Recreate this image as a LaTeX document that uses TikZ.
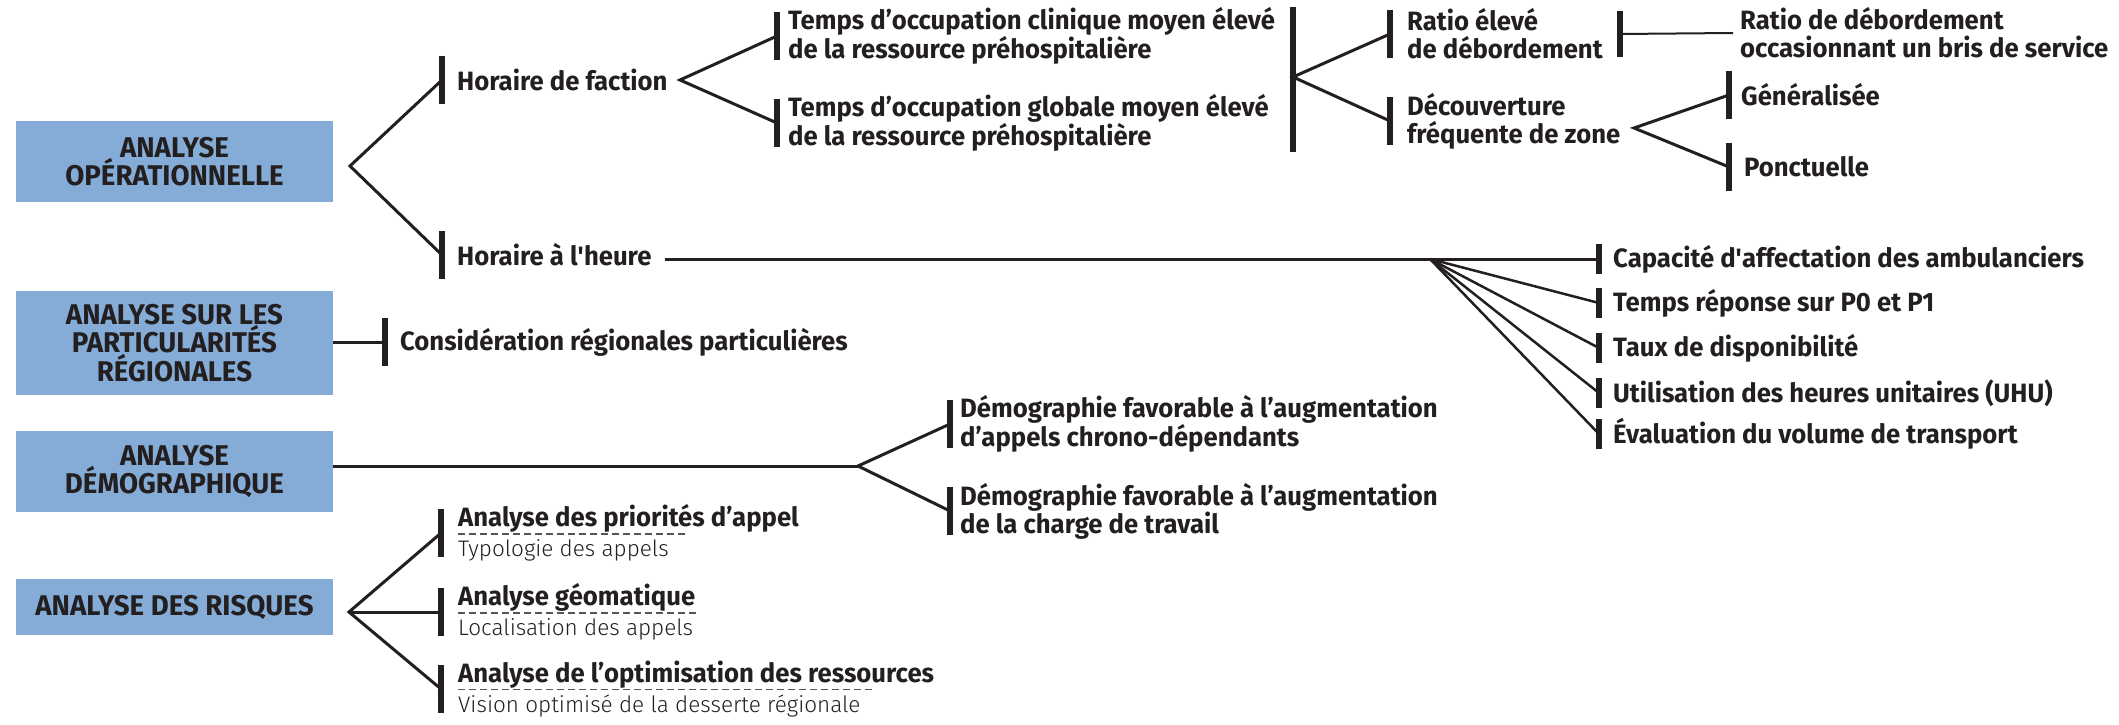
\documentclass[tikz,border=0pt]{standalone}
\usepackage{fontspec}
\setmainfont{Fira Sans}[FakeStretch=0.97]
\IfFontExistsTF{Fira Sans Light}{\newfontfamily\lightfont{Fira Sans Light}}{\newfontfamily\lightfont{Fira Sans}}
\definecolor{ink}{HTML}{231F20}
\definecolor{boxblue}{HTML}{84ACD6}
\definecolor{dashgray}{HTML}{555555}
\newcommand\dashfill[1]{\hbox to #1pt{\color{dashgray}\leaders\hbox to 11pt{\rule{6.5pt}{1.4pt}\hss}\hfill}}
\newcommand\subl[2]{\rlap{\raisebox{22pt}{\dashfill{#1}}}{\lightfont\mdseries\fontsize{22.5}{24}\selectfont #2}}
\begin{document}
\begin{tikzpicture}[x=1pt,y=-1pt,
  box/.style={fill=boxblue, minimum width=317pt, inner sep=0pt, align=center,
    font=\fontsize{28.5}{26}\selectfont\bfseries, text=ink},
  leaf/.style={anchor=west, inner ysep=0pt, inner xsep=15pt, align=left,
    font=\fontsize{26.5}{28}\selectfont\bfseries, text=ink},
  rleaf/.style={leaf, font=\fontsize{26.5}{30}\selectfont\bfseries},
  bar/.style={line width=6pt, draw=ink},
  conn/.style={line width=3pt, draw=ink, line join=miter},
  fanl/.style={line width=2.5pt, draw=ink},
  thinl/.style={line width=2pt, draw=ink}]
\useasboundingbox (0,0) rectangle (2119,725);

% root boxes
\node[box, minimum height=81pt] (b1) at (174.5,161.5) {ANALYSE\\OPÉRATIONNELLE};
\node[box, minimum height=104pt] (b2) at (174.5,343) {ANALYSE SUR LES\\PARTICULARITÉS\\RÉGIONALES};
\node[box, minimum height=81pt] (b3) at (174.5,471.5) {ANALYSE\\DÉMOGRAPHIQUE};
\node[box, minimum height=56pt] (b4) at (174.5,607) {ANALYSE DES RISQUES};

% branch points
\coordinate (a1) at (350,166);
\coordinate (fs) at (680,80);
\coordinate (tj) at (1293,77);
\coordinate (dzs) at (1634,128);
\coordinate (fan) at (1430,259);
\coordinate (ds) at (858,466);
\coordinate (a4) at (349,612);

% operational branch
\node[leaf] (hf) at (442,80) {Horaire de faction};
\node[leaf] (hh) at (442,255) {Horaire à l\textquotesingle heure};
\node[leaf, inner xsep=11pt] (tc) at (777,36) {Temps d’occupation clinique moyen élevé\\de la ressource préhospitalière};
\node[leaf, inner xsep=11pt] (tg) at (777,123) {Temps d’occupation globale moyen élevé\\de la ressource préhospitalière};
\node[leaf, inner xsep=17pt] (re) at (1390,34) {Ratio élevé\\de débordement};
\node[leaf, inner xsep=17pt] (dz) at (1390,121) {Découverture\\fréquente de zone};
\node[leaf, inner xsep=7pt] (rd) at (1733,33) {Ratio de débordement\\occasionnant un bris de service};
\node[leaf, inner xsep=12pt] (ge) at (1729,95) {Généralisée};
\node[leaf, inner xsep=15pt] (po) at (1729,167) {Ponctuelle};
\node[leaf, inner xsep=14pt] (ca) at (1599,259) {Capacité d\textquotesingle affectation des ambulanciers};
\node[leaf, inner xsep=14pt] (tr) at (1599,303) {Temps réponse sur P0 et P1};
\node[leaf, inner xsep=14pt] (td) at (1599,348) {Taux de disponibilité};
\node[leaf, inner xsep=14pt] (uh) at (1599,393) {Utilisation des heures unitaires (UHU)};
\node[leaf, inner xsep=14pt] (ev) at (1599,434) {Évaluation du volume de transport};

% regional
\node[leaf] (cr) at (385,342) {Considération régionales particulières};

% demographic
\node[leaf, inner xsep=10pt] (d1) at (950,424) {Démographie favorable à l’augmentation\\d’appels chrono-dépendants};
\node[leaf, inner xsep=10pt] (d2) at (950,511) {Démographie favorable à l’augmentation\\de la charge de travail};

% risks
\node[rleaf, inner xsep=17pt] (r1) at (441,533) {Analyse des priorités d’appel\\\subl{233}{Typologie des appels}};
\node[rleaf, inner xsep=17pt] (r2) at (441,612) {Analyse géomatique\\\subl{245}{Localisation des appels}};
\node[rleaf, inner xsep=17pt] (r3) at (441,689) {Analyse de l’optimisation des ressources\\\subl{428}{Vision optimisé de la desserte régionale}};

% bars
\foreach \n in {hf,hh,tc,tg,re,dz,ge,po,cr,d1,d2,r1,r2,r3}
  \draw[bar] ([yshift=24pt]\n.west) -- ([yshift=-24pt]\n.west);
\foreach \n in {ca,tr,td,uh,ev}
  \draw[bar] ([yshift=15pt]\n.west) -- ([yshift=-15pt]\n.west);
\draw[bar] (tc.north -| tj) -- (tg.south -| tj);
\draw[bar] ([yshift=23pt]re.east) -- ([yshift=-23pt]re.east);

% connectors
\draw[conn] (hf.west) -- (a1) -- (hh.west);
\draw[conn] (tc.west) -- (fs) -- (tg.west);
\draw[conn] (re.west) -- (tj) -- (dz.west);
\draw[thinl] (re.east) -- (rd.west);
\draw[conn] (ge.west) -- (dzs) -- (po.west);
\draw[conn] ([xshift=-2pt]hh.east |- ca.west) -- (ca.west);
\foreach \n in {tr,td,uh,ev}
  \draw[fanl] (fan) -- (\n.west);
\draw[conn] (b2.east |- cr.west) -- (cr.west);
\draw[conn] (b3.east |- ds) -- (ds);
\draw[conn] (d1.west) -- (ds) -- (d2.west);
\draw[conn] (r1.west) -- (a4) -- (r3.west);
\draw[conn] (a4) -- (r2.west);
\end{tikzpicture}
\end{document}
